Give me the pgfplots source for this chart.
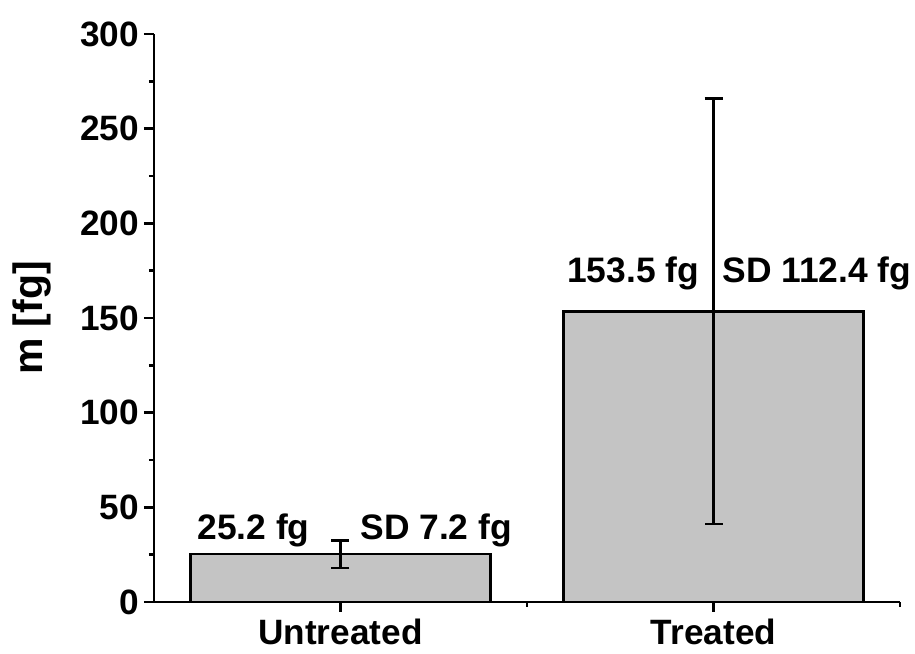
\documentclass[border=0pt]{standalone}
\usepackage{pgfplots}
\pgfplotsset{compat=1.18}
\usepackage{fontspec}
\setmainfont{Liberation Sans}
\definecolor{barfill}{RGB}{196,196,196}
\begin{document}
\begin{tikzpicture}
\begin{axis}[
  scale only axis,
  width=373pt, height=284pt,
  xmin=0, xmax=4, ymin=0, ymax=300,
  axis x line*=bottom, axis y line*=left,
  axis line style={line width=1.2pt},
  tick align=outside,
  major tick length=5pt, minor tick length=2.5pt,
  every tick/.style={black, line width=1.2pt},
  xtick={1,3}, xticklabels={Untreated,Treated},
  minor xtick={2,4},
  ytick={0,50,...,300}, minor y tick num=1,
  /pgf/number format/assume math mode=true,
  ticklabel style={font=\fontsize{17.6}{20}\selectfont\bfseries},
  yticklabel style={xshift=1pt},
  ylabel={m [fg]},
  ylabel style={font=\fontsize{20.5}{24}\selectfont\bfseries,
    at={(axis description cs:-0.1635,0.5)}, anchor=center},
  clip=false,
]
\addplot[ybar, bar width=150pt, fill=barfill, draw=black, line width=1.2pt,
  error bars/.cd, y dir=both, y explicit,
  error bar style={line width=1.2pt, black},
  error mark options={rotate=90, mark size=4.5pt, line width=1.2pt, black}]
  coordinates {(1,25.2) +- (0,7.2) (3,153.5) +- (0,112.4)};
\begin{scope}[every node/.style={inner sep=0pt, anchor=base west, font=\fontsize{17.7}{20}\selectfont\bfseries}]
\node at (axis cs:0.231,32.8) {25.2 fg};
\node at (axis cs:1.105,32.8) {SD 7.2 fg};
\node at (axis cs:2.214,169) {153.5 fg};
\node at (axis cs:3.046,169) {SD 112.4 fg};
\end{scope}
\end{axis}
\pgfresetboundingbox
\path (-77pt,-25.5pt) rectangle (380.5pt,301pt);
\end{tikzpicture}
\end{document}
